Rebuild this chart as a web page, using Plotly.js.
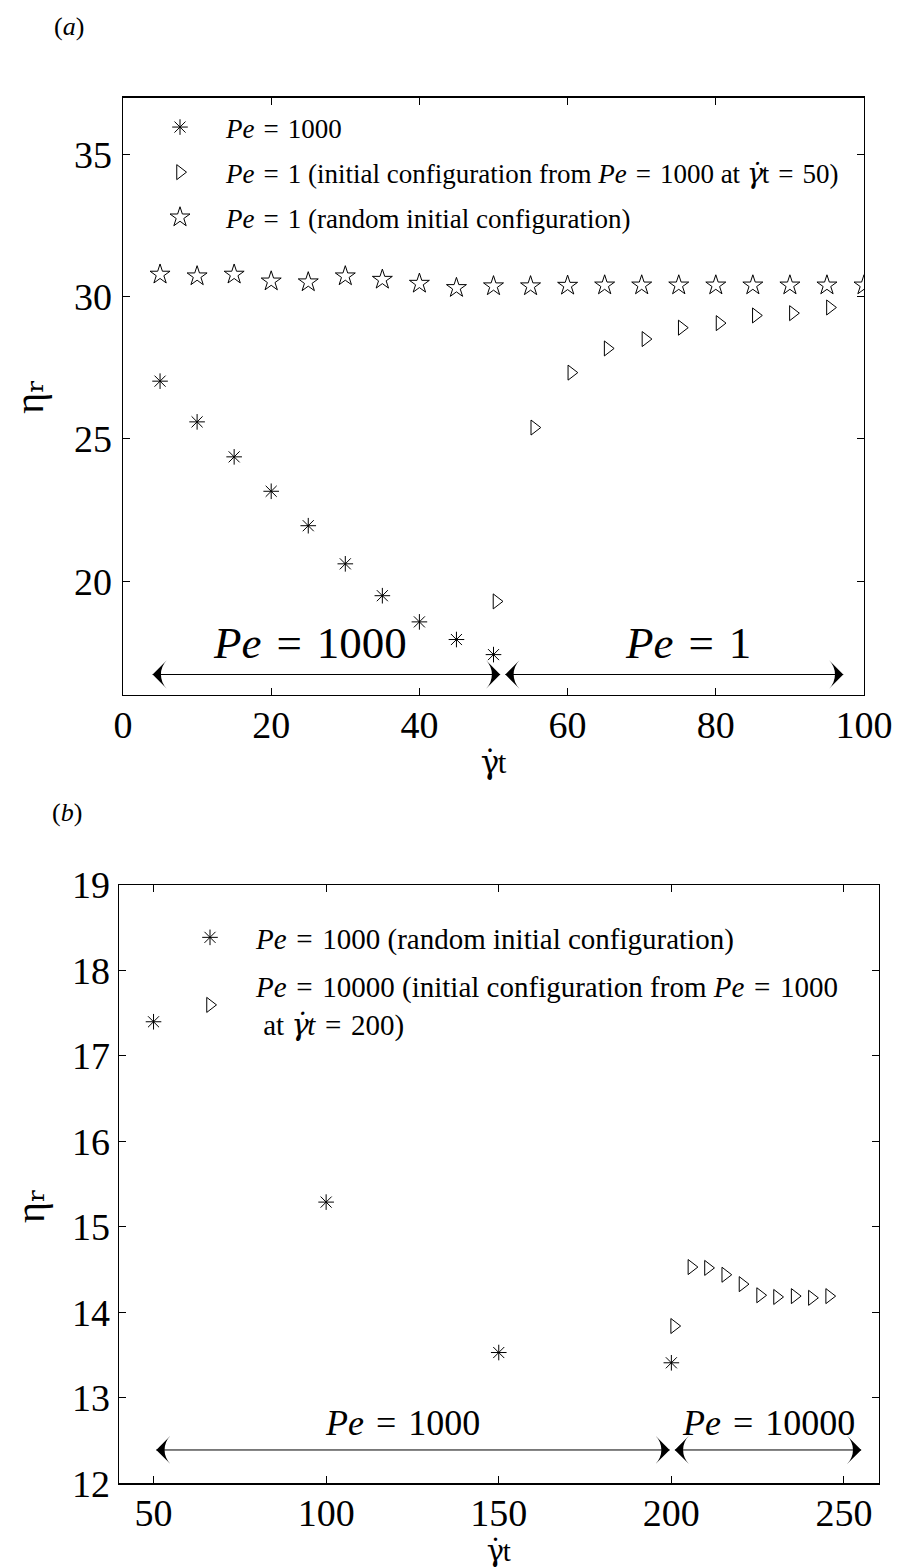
<!DOCTYPE html>
<html>
<head>
<meta charset="utf-8">
<script src="https://cdn.plot.ly/plotly-3.0.1.min.js"></script>
<style>
  html, body { margin: 0; padding: 0; background: #ffffff; }
  #chart { width: 902px; height: 1568px; }
</style>
</head>
<body>
<div id="chart"></div>
<script>
// ---- Panel (a): relative viscosity against strain, Pe = 1000 then Pe = 1 ----
const tA_pe1000   = [5, 10, 15, 20, 25, 30, 35, 40, 45, 50];
const etaA_pe1000 = [27.03, 25.60, 24.37, 23.16, 21.95, 20.61, 19.49, 18.57, 17.95, 17.42];

const tA_pe1      = [50.4, 55.5, 60.5, 65.4, 70.5, 75.4, 80.5, 85.4, 90.4, 95.4];
const etaA_pe1    = [19.29, 25.40, 27.33, 28.18, 28.51, 28.91, 29.07, 29.34, 29.42, 29.62];

const tA_random   = [5, 10, 15, 20, 25, 30, 35, 40, 45, 50, 55, 60, 65, 70, 75, 80, 85, 90, 95, 100];
const etaA_random = [30.78, 30.72, 30.78, 30.54, 30.51, 30.72, 30.60, 30.46, 30.31, 30.37,
                     30.37, 30.39, 30.40, 30.40, 30.40, 30.40, 30.40, 30.40, 30.40, 30.40];

const ticksA_x = [0, 20, 40, 60, 80, 100];
const ticksA_y = [20, 25, 30, 35];

// strain-rate symbol: gamma with a spacing dot pulled back over it
const GDOT = '<span style="font-family:DejaVu Serif;letter-spacing:-0.55em">γ</span>' +
             '<span style="font-family:DejaVu Serif">˙</span>';
const EQ = '\u2004=\u2004';

const namesA = [
  '<i>Pe</i>' + EQ + '1000',
  '<i>Pe</i>' + EQ + '1 (initial configuration from <i>Pe</i>' + EQ + '1000 at <i>' + GDOT + '</i>t' + EQ + '50)',
  '<i>Pe</i>' + EQ + '1 (random initial configuration)'
];
// shear regimes drawn as double-headed arrows along the bottom
const regimeA_labels = ['<i>Pe</i>' + EQ + '1000', '<i>Pe</i>' + EQ + '1'];
const regimeA_from   = [4.0, 51.6];
const regimeA_to     = [50.9, 97.2];

// ---- Panel (b): Pe = 1000 then Pe = 10000 ----
const tB_pe1000    = [50, 100, 150, 200];
const etaB_pe1000  = [17.40, 15.29, 13.53, 13.41];

const tB_pe10000   = [200.8, 205.8, 210.6, 215.6, 220.6, 225.7, 230.6, 235.7, 240.7, 245.7];
const etaB_pe10000 = [13.84, 14.53, 14.52, 14.44, 14.33, 14.20, 14.18, 14.19, 14.17, 14.19];

const ticksB_x = [50, 100, 150, 200, 250];
const ticksB_y = [12, 13, 14, 15, 16, 17, 18, 19];

const namesB = [
  '<i>Pe</i>' + EQ + '1000 (random initial configuration)',
  '<i>Pe</i>' + EQ + '10000 (initial configuration from <i>Pe</i>' + EQ + '1000<br> at <i>' + GDOT + 't</i>' + EQ + '200)'
];
const regimeB_labels = ['<i>Pe</i>' + EQ + '1000', '<i>Pe</i>' + EQ + '10000'];
const regimeB_from   = [50.8, 201.0];
const regimeB_to     = [199.5, 255.0];

const xTitle = GDOT + 't';
// relative viscosity, eta with a subscript r glyph
const yTitle = 'η<span style="font-family:DejaVu Serif, DejaVu Sans">ᵣ</span>';

// ---- styling ----
const SERIF = '"Liberation Serif", "Times New Roman", serif';
const W = 902, H = 1568;
const px = v => v / W;            // horizontal pixel -> paper fraction
const py = v => 1 - v / H;        // vertical pixel (from top) -> paper fraction

function markerTrace(x, y, symbol, size, name, xa, ya, legend, group) {
  return {
    type: 'scatter', mode: 'markers', x: x, y: y, name: name,
    xaxis: xa, yaxis: ya, legend: legend, legendgroup: group,
    marker: { symbol: symbol, size: size, color: '#000',
              line: { color: '#000', width: 1 } },
    hoverinfo: 'x+y'
  };
}

// one double-headed arrow: a thin line with an arrowhead marker at each end
function regimeTrace(from, to, level, xa, ya) {
  return {
    type: 'scatter', mode: 'lines+markers', x: [from, to], y: [level, level],
    xaxis: xa, yaxis: ya, showlegend: false, hoverinfo: 'skip',
    line: { color: '#000', width: 1 },
    marker: { symbol: 'arrow-wide', size: 20, angle: [-90, 90], color: '#000',
              line: { width: 0 } }
  };
}

const traces = [
  markerTrace(tA_pe1000, etaA_pe1000, 'asterisk-open', 13, namesA[0], 'x', 'y', 'legend', 'a1'),
  markerTrace(tA_pe1, etaA_pe1, 'triangle-right-open', 13, namesA[1], 'x', 'y', 'legend', 'a2'),
  markerTrace(tA_random, etaA_random, 'star-open', 15, namesA[2], 'x', 'y', 'legend', 'a3'),
  markerTrace(tB_pe1000, etaB_pe1000, 'asterisk-open', 13, namesB[0], 'x2', 'y2', 'legend2', 'b1'),
  markerTrace(tB_pe10000, etaB_pe10000, 'triangle-right-open', 13, namesB[1], 'x2', 'y2', 'legend2', 'b2'),
  regimeTrace(regimeA_from[0], regimeA_to[0], 16.72, 'x', 'y'),
  regimeTrace(regimeA_from[1], regimeA_to[1], 16.72, 'x', 'y'),
  regimeTrace(regimeB_from[0], regimeB_to[0], 12.39, 'x2', 'y2'),
  regimeTrace(regimeB_from[1], regimeB_to[1], 12.39, 'x2', 'y2')
];

function axis(range, ticks, domain, anchor, standoff, title, titleSize, titleGap) {
  const ax = {
    range: range, domain: domain, anchor: anchor,
    tickmode: 'array', tickvals: ticks, ticktext: ticks.map(String),
    ticks: 'inside', ticklen: 7, tickwidth: 1, tickcolor: '#000',
    showline: true, linecolor: '#000', linewidth: 1.3, mirror: 'ticks',
    showgrid: false, zeroline: false,
    tickfont: { family: SERIF, size: 38, color: '#000' },
    ticklabelstandoff: standoff, fixedrange: true
  };
  if (title) {
    ax.title = { text: title, font: { family: SERIF, size: titleSize, color: '#000' },
                 standoff: titleGap };
  }
  return ax;
}

function regimeLabel(text, x, y, xr, yr, size) {
  return {
    xref: xr, yref: yr, x: x, y: y, text: text, showarrow: false,
    xanchor: 'center', yanchor: 'middle',
    font: { family: SERIF, size: size, color: '#000' }
  };
}

function paperText(text, x, y, size, angle) {
  return {
    xref: 'paper', yref: 'paper', x: px(x), y: py(y), text: text,
    showarrow: false, xanchor: 'center', yanchor: 'middle', textangle: angle || 0,
    font: { family: SERIF, size: size, color: '#000' }
  };
}

const annotations = [
  // panel letters
  paperText('(<i>a</i>)', 69, 26, 26),
  paperText('(<i>b</i>)', 67, 812, 26),
  // viscosity label of the lower panel, set a little below the axis centre
  paperText(yTitle, 30, 1205, 40, -90),
  // regime labels
  regimeLabel(regimeA_labels[0], 25.3, 17.84, 'x', 'y', 45),
  regimeLabel(regimeA_labels[1], 76.3, 17.84, 'x', 'y', 45),
  regimeLabel(regimeB_labels[0], 122.2, 12.70, 'x2', 'y2', 36),
  regimeLabel(regimeB_labels[1], 228, 12.70, 'x2', 'y2', 36)
];

function legendStyle(size, gap, x, y) {
  return {
    font: { family: SERIF, size: size, color: '#000' },
    bgcolor: 'rgba(0,0,0,0)', borderwidth: 0,
    xanchor: 'left', yanchor: 'top', x: px(x), y: py(y),
    itemwidth: 82, tracegroupgap: gap, valign: 'middle',
    itemclick: false, itemdoubleclick: false
  };
}

const layout = {
  width: W, height: H,
  margin: { l: 0, r: 0, t: 0, b: 0, pad: 0 },
  paper_bgcolor: '#fff', plot_bgcolor: '#fff',
  font: { family: SERIF, color: '#000' },
  showlegend: true,
  xaxis:  axis([0, 100], ticksA_x, [px(123), px(864)], 'y', -4, xTitle, 31, 6),
  yaxis:  axis([16, 37], ticksA_y, [py(695), py(97.5)], 'x', 2, yTitle, 40, 18),
  xaxis2: axis([40, 260], ticksB_x, [px(119), px(878.5)], 'y2', -4, xTitle, 29, 0),
  yaxis2: axis([12, 19], ticksB_y, [py(1483.3), py(885)], 'x2', 0, null),
  legend:  legendStyle(27, 7, 134, 103),
  legend2: legendStyle(29, 8, 164, 912),
  annotations: annotations
};

Plotly.newPlot('chart', traces, layout, { staticPlot: true, displayModeBar: false });
</script>
</body>
</html>
